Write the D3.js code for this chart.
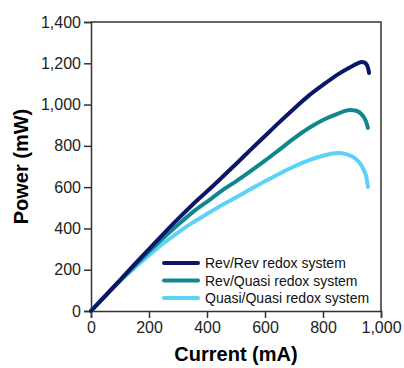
<!DOCTYPE html>
<html><head><meta charset="utf-8">
<script src="https://cdn.jsdelivr.net/npm/d3@7"></script>
<style>body{margin:0;background:#fff}svg{display:block}</style>
</head><body>
<svg id="c" width="404" height="368"></svg>
<script>
const seriesNames = ["Rev/Rev redox system", "Rev/Quasi redox system", "Quasi/Quasi redox system"];
const seriesColors = ["#0b1766", "#10878f", "#5cd2f7"];
const revRev = [[0,0],[50,75],[100,150],[150,226],[200,300],[250,374],[300,446],[350,515],[410,592],[450,645],[500,712],[548,778],[600,848],[650,915],[700,980],[750,1042],[800,1095],[850,1145],[900,1186],[920,1200],[934,1206],[945,1202],[952,1190],[956,1172],[959,1153]];
const revQuasi = [[0,0],[50,74],[100,147],[150,218],[200,288],[250,355],[300,418],[350,478],[410,540],[450,582],[500,628],[548,675],[600,728],[650,782],[700,836],[750,885],[800,925],[850,955],[893,974],[915,970],[935,950],[948,920],[955,887]];
const quasiQuasi = [[0,0],[50,73],[100,144],[150,209],[200,270],[250,328],[300,380],[350,428],[410,478],[450,512],[500,550],[548,588],[600,628],[650,665],[700,700],[750,730],[800,752],[852,765],[880,760],[905,745],[925,720],[940,685],[950,645],[955,601]];
const xTicks = [0,200,400,600,800,1000];
const yTicks = [0,200,400,600,800,1000,1200,1400];
const xTitle = "Current (mA)";
const yTitle = "Power (mW)";

const svg = d3.select("#c");
const m = {l:91, r:381, t:22, b:311};
const x = d3.scaleLinear().domain([0,1000]).range([m.l, m.r]);
const y = d3.scaleLinear().domain([0,1400]).range([m.b, m.t]);
const fmt = d3.format(",");
const axisColor = "#333";
const ff = "'Liberation Sans', Arial, sans-serif";

svg.append("path").attr("d", `M${m.l},${m.t}H${m.r}V${m.b}`).attr("fill","none").attr("stroke",axisColor).attr("stroke-width",1.5);

const gx = svg.append("g").attr("transform",`translate(0,${m.b})`)
  .call(d3.axisBottom(x).tickValues(xTicks).tickFormat(fmt).tickSizeOuter(0).tickSize(7).tickPadding(4));
const gy = svg.append("g").attr("transform",`translate(${m.l},0)`)
  .call(d3.axisLeft(y).tickValues(yTicks).tickFormat(fmt).tickSizeOuter(0).tickSize(7).tickPadding(3));
[gx,gy].forEach(g=>{
  g.select(".domain").attr("stroke",axisColor).attr("stroke-width",1.5);
  g.selectAll(".tick line").attr("stroke",axisColor).attr("stroke-width",1.5);
  g.selectAll("text").attr("fill","#222").style("font-family",ff).style("font-size","16px");
});

const line = d3.line().x(d=>x(d[0])).y(d=>y(d[1])).curve(d3.curveMonotoneX);
const data = [quasiQuasi, revQuasi, revRev];
const cols = [seriesColors[2], seriesColors[1], seriesColors[0]];
data.forEach((s,i)=>{
  svg.append("path").attr("d", line(s)).attr("fill","none").attr("stroke",cols[i]).attr("stroke-width",4).attr("stroke-linecap","round").attr("stroke-linejoin","round");
});

const lg = svg.append("g");
seriesNames.forEach((n,i)=>{
  const yy = 263 + i*17.5;
  lg.append("line").attr("x1",164).attr("x2",198).attr("y1",yy).attr("y2",yy).attr("stroke",seriesColors[i]).attr("stroke-width",4).attr("stroke-linecap","round");
  lg.append("text").attr("x",205).attr("y",yy+5).text(n).attr("fill","#111")
    .style("font-family",ff).style("font-size","14px");
});

svg.append("text").attr("x",(m.l+m.r)/2).attr("y",361).attr("text-anchor","middle").text(xTitle)
  .style("font-family",ff).style("font-size","20px").style("font-weight","bold").attr("fill","#000");
svg.append("text").attr("transform",`translate(28,${(m.t+m.b)/2}) rotate(-90)`).attr("text-anchor","middle").text(yTitle)
  .style("font-family",ff).style("font-size","20px").style("font-weight","bold").attr("fill","#000");
</script>
</body></html>
